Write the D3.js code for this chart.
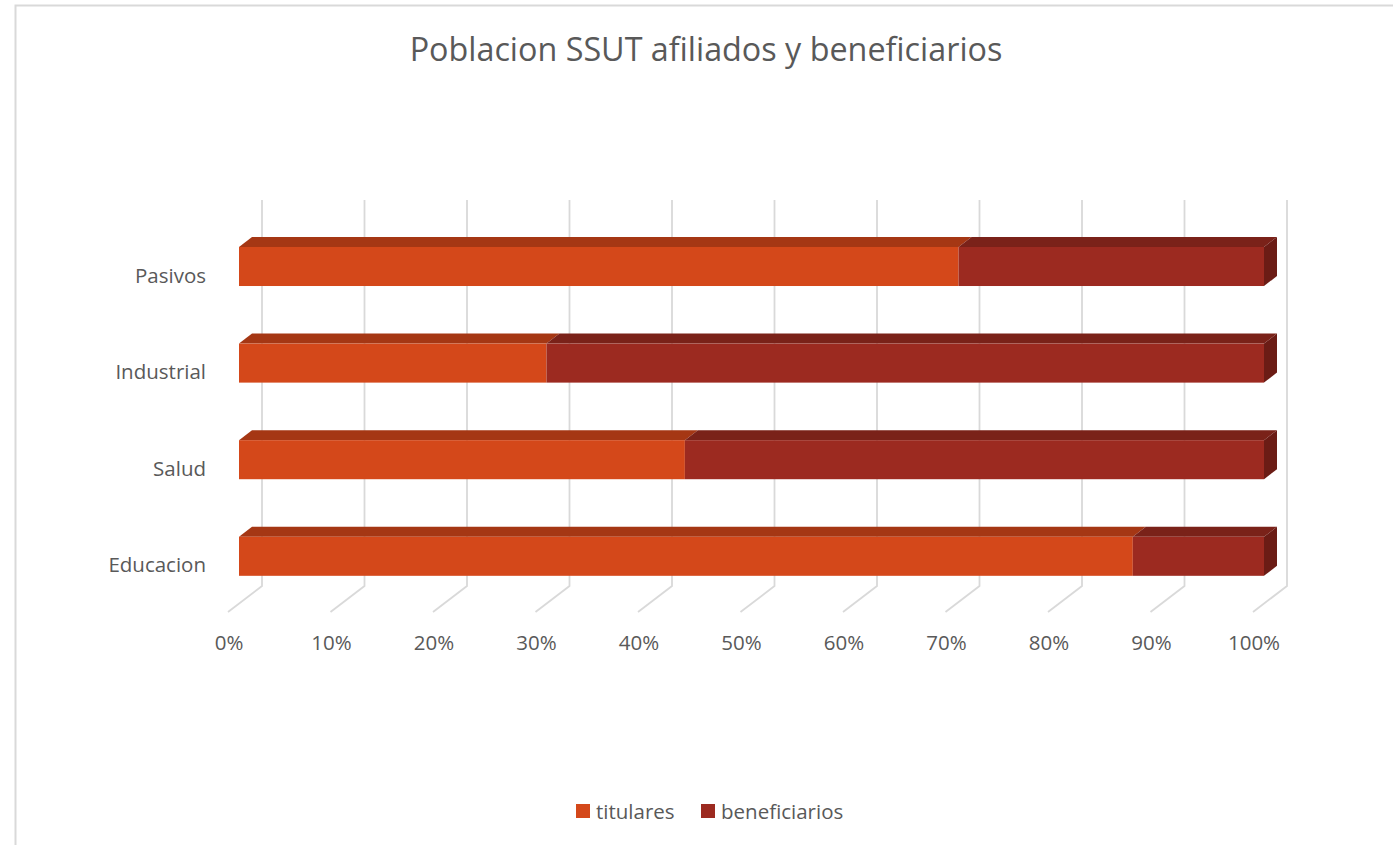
<!DOCTYPE html>
<html>
<head>
<meta charset="utf-8">
<script src="https://cdn.jsdelivr.net/npm/d3@7"></script>
<style>
  html, body { margin: 0; padding: 0; background: #fff; }
  svg { display: block; }
  text { font-family: "Open Sans", sans-serif; fill: #595959; }
</style>
</head>
<body>
<svg id="chart" width="1393" height="845"></svg>
<script>
// ---- data ----
const categories = ["Educacion", "Salud", "Industrial", "Pasivos"];
const titulares = [0.872, 0.435, 0.300, 0.702];
const beneficiarios = [0.128, 0.565, 0.700, 0.298];
const seriesNames = ["titulares", "beneficiarios"];
const tickValues = [0, 0.1, 0.2, 0.3, 0.4, 0.5, 0.6, 0.7, 0.8, 0.9, 1.0];
const titleText = "Poblacion SSUT afiliados y beneficiarios";

// ---- style ----
const colors = {
  titulares: { front: "#D4481A", top: "#A53714", side: "#8E2F10" },
  beneficiarios: { front: "#9C2A20", top: "#7A2219", side: "#6B1C15" }
};
const gridColor = "#d9d9d9";
const labelSize = 20.5;

const svg = d3.select("#chart");

// chart border
svg.append("rect").attr("x", 15.5).attr("y", 5.5).attr("width", 1400).attr("height", 900)
  .attr("fill", "none").attr("stroke", gridColor).attr("stroke-width", 2);

// scales
const x = d3.scaleLinear().domain([0, 1]).range([239, 1264]);
const y = d3.scaleBand().domain([...categories].reverse())
  .range([218.2, 604.6]).paddingInner(0.596).paddingOuter(0.298);

// 3D offsets
const bdx = 13, bdy = -10;        // bar depth
const backDx = 23;                 // back wall offset from bar front
const floorFrontDx = -11;          // floor front offset from bar front
const gridTop = 200, gridBottom = 586, floorFront = 612;

// gridlines (back wall + floor)
const grid = svg.append("g");
tickValues.forEach(t => {
  const xb = x(t) + backDx, xf = x(t) + floorFrontDx;
  grid.append("path")
    .attr("d", `M${xb},${gridTop}L${xb},${gridBottom}L${xf},${floorFront}`)
    .attr("fill", "none").attr("stroke", gridColor).attr("stroke-width", 1.8);
});

// tick labels
svg.append("g").selectAll("text").data(tickValues).join("text")
  .attr("x", d => x(d) + floorFrontDx + 1)
  .attr("y", 650)
  .attr("text-anchor", "middle")
  .attr("font-size", labelSize)
  .text(d3.format(".0%"));

// category labels
svg.append("g").selectAll("text").data(categories).join("text")
  .attr("x", 206)
  .attr("y", d => y(d) + y.bandwidth() / 2 + 9)
  .attr("dy", "0.35em")
  .attr("text-anchor", "end")
  .attr("font-size", labelSize)
  .text(d => d);

// stacked bars
const rows = categories.map((c, i) => ({ cat: c, titulares: titulares[i], beneficiarios: beneficiarios[i] }));
const stacked = d3.stack().keys(seriesNames).offset(d3.stackOffsetExpand)(rows);
const bars = svg.append("g");
stacked.forEach((layer, li) => {
  const key = layer.key;
  layer.forEach(seg => {
    const x0 = x(seg[0]), x1 = x(seg[1]);
    const yt = y(seg.data.cat), yb = yt + y.bandwidth();
    const g = bars.append("g");
    // top face
    g.append("path")
      .attr("d", `M${x0},${yt}L${x0 + bdx},${yt + bdy}L${x1 + bdx},${yt + bdy}L${x1},${yt}Z`)
      .attr("fill", colors[key].top);
    // front face
    g.append("rect").attr("x", x0).attr("y", yt).attr("width", x1 - x0).attr("height", yb - yt)
      .attr("fill", colors[key].front);
    // right side (only last segment visible)
    if (li === stacked.length - 1) {
      g.append("path")
        .attr("d", `M${x1},${yt}L${x1 + bdx},${yt + bdy}L${x1 + bdx},${yb + bdy}L${x1},${yb}Z`)
        .attr("fill", colors[key].side);
    }
  });
});

// title
const title = svg.append("text")
  .attr("x", 706).attr("y", 61)
  .attr("text-anchor", "middle")
  .attr("font-size", 32)
  .text(titleText);
const tw = title.node().getComputedTextLength();
title.attr("font-size", 32 * 593 / tw);

// legend
const legendItems = [
  { name: "titulares", sx: 576 },
  { name: "beneficiarios", sx: 701 }
];
const legend = svg.append("g");
legendItems.forEach(it => {
  legend.append("rect").attr("x", it.sx).attr("y", 804).attr("width", 14).attr("height", 14)
    .attr("fill", colors[it.name].front);
  legend.append("text").attr("x", it.sx + 20).attr("y", 818.5)
    .attr("font-size", labelSize).text(it.name);
});
</script>
</body>
</html>
